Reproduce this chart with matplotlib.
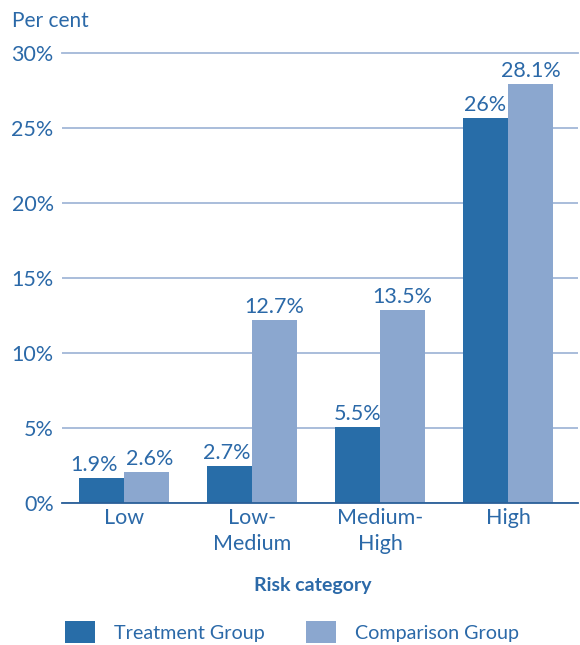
import matplotlib
matplotlib.use("Agg")
import matplotlib.pyplot as plt
import numpy as np

# risk categories and bar heights (per cent)
categories = ["Low", "Low-\nMedium", "Medium-\nHigh", "High"]
treatment = [1.7, 2.5, 5.1, 25.7]
comparison = [2.1, 12.2, 12.9, 27.95]
treatment_labels = ["1.9%", "2.7%", "5.5%", "26%"]
comparison_labels = ["2.6%", "12.7%", "13.5%", "28.1%"]
yticks = [0, 5, 10, 15, 20, 25, 30]

dark = "#286da8"
light = "#8ba7cf"
txt = "#2b69a8"
grid = "#a3b8d8"
fs = 15.5

plt.rcParams["font.family"] = ["Lato", "DejaVu Sans"]

fig = plt.figure(figsize=(5.8, 6.45), dpi=100)
ax = fig.add_axes([62 / 580, 1 - 503 / 645, 516 / 580, 450 / 645])

x = np.arange(len(categories))
w = 0.355
b1 = ax.bar(x - w / 2, treatment, w, color=dark, zorder=3, label="Treatment Group")
b2 = ax.bar(x + w / 2, comparison, w, color=light, zorder=3, label="Comparison Group")

# small sideways nudges so neighbouring labels don't touch
nudge = {(0, 0): -5, (0, 1): 2, (1, 0): -2}
for k, (bars, labs) in enumerate([(b1, treatment_labels), (b2, comparison_labels)]):
    for i, (bar, lab) in enumerate(zip(bars, labs)):
        ax.annotate(lab, (bar.get_x() + bar.get_width() / 2, bar.get_height()),
                    xytext=(nudge.get((i, k), 0), 2), textcoords="offset points",
                    ha="center", va="bottom", fontsize=fs, color=txt)

ax.set_xlim(-0.484, 3.547)
ax.set_ylim(0, 30)
ax.set_yticks(yticks)
ax.set_yticklabels([f"{t}%" for t in yticks])
ax.set_xticks(x)
ax.set_xticklabels(categories, linespacing=1.4)
ax.tick_params(axis="y", length=0, pad=6, labelsize=fs, labelcolor=txt)
ax.tick_params(axis="x", length=0, pad=3.5, labelsize=fs, labelcolor=txt)

ax.yaxis.grid(True, color=grid, linewidth=1.3, zorder=0)
ax.get_ygridlines()[-1].set_clip_on(False)
for s in ["top", "right", "left"]:
    ax.spines[s].set_visible(False)
ax.spines["bottom"].set_color("#2a5f98")
ax.spines["bottom"].set_linewidth(1.3)
ax.spines["bottom"].set_zorder(4)

fig.text(12 / 580, 1 - 27 / 645, "Per cent", fontsize=15, color=txt, va="baseline")
fig.text(313 / 580, 1 - 585 / 645, "Risk category", fontsize=14, fontweight="bold",
         color=txt, ha="center", va="center")

fig.legend(handles=[b1, b2], loc="center", bbox_to_anchor=(292 / 580, 1 - 632 / 645),
           ncol=2, frameon=False, fontsize=14.2, labelcolor=txt,
           handlelength=1.52, handleheight=1.35, handletextpad=0.96, columnspacing=2.1)

fig.savefig("out.png", dpi=100)
